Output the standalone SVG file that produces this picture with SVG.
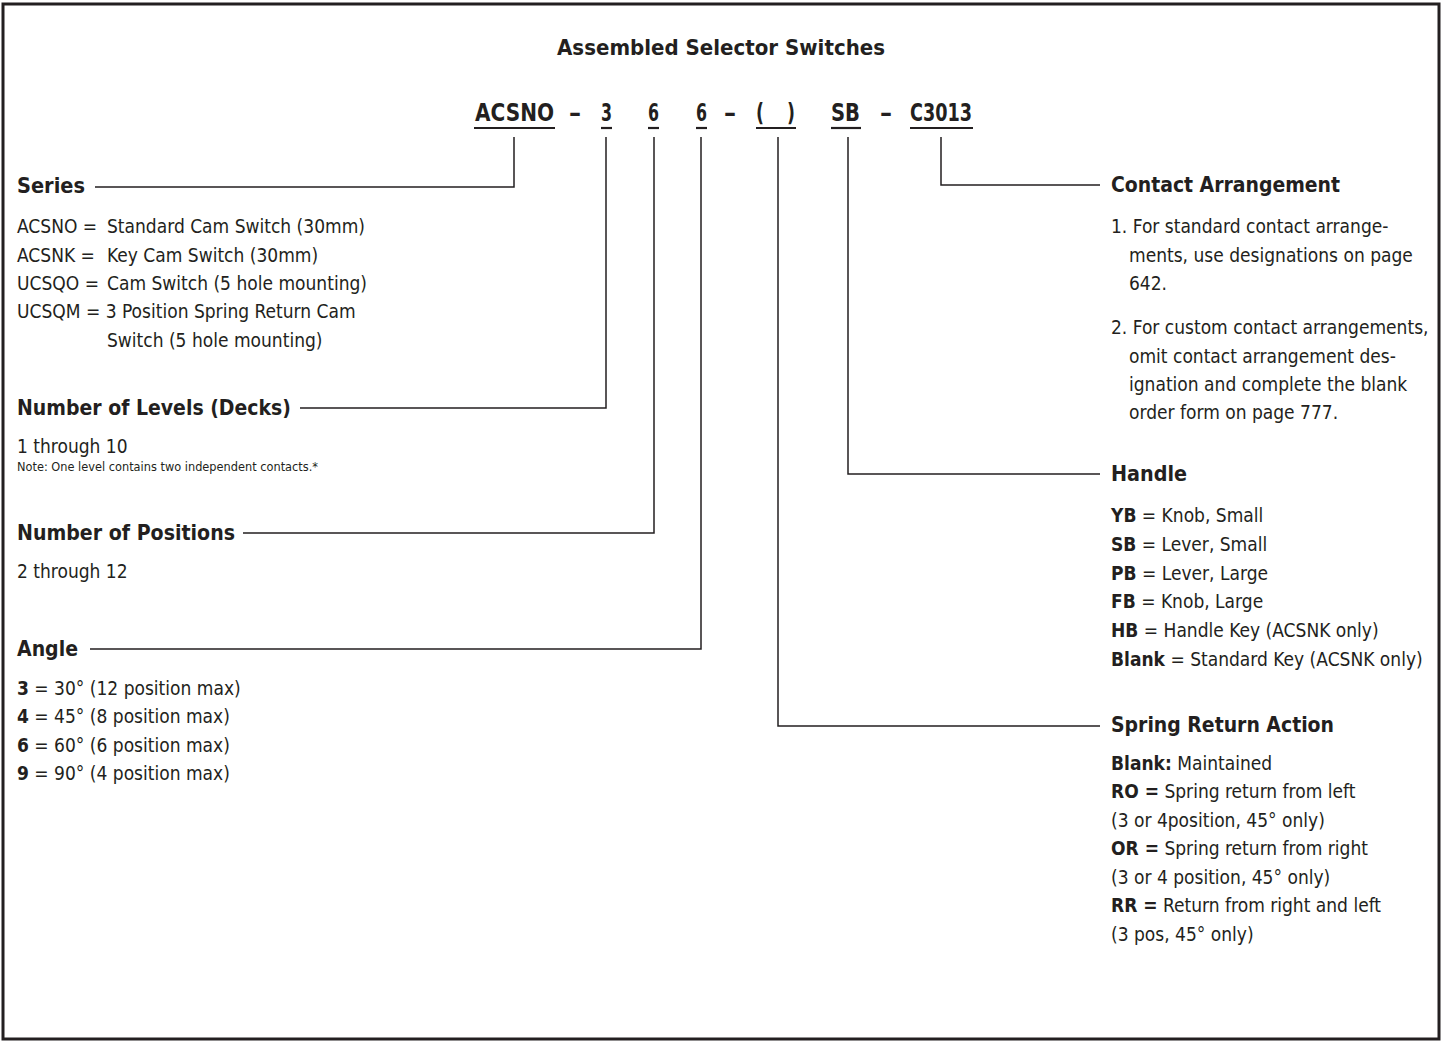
<svg xmlns="http://www.w3.org/2000/svg" width="1442" height="1041" viewBox="0 0 1442 1041">
<style>
text{font-family:"DejaVu Sans Condensed","Liberation Sans Narrow","Liberation Sans",sans-serif;fill:#231f20}
.h{font-weight:bold;font-size:22px}
.t{font-size:19px}
.b{font-weight:bold}
.n{font-size:12.5px}
.code{font-weight:bold;font-size:25px}
.c{fill:none;stroke:#231f20;stroke-width:1.5}
.u{stroke:#231f20;stroke-width:2.2}
</style>
<rect x="3" y="4" width="1436" height="1035" fill="#fff" stroke="#231f20" stroke-width="3"/>
<g id="title">
<text x="557" y="55" class="h" textLength="328" lengthAdjust="spacingAndGlyphs">Assembled Selector Switches</text>
</g>
<g id="code">
<text x="475" y="121" class="code" textLength="79" lengthAdjust="spacingAndGlyphs">ACSNO</text>
<text x="569" y="121" class="code" textLength="12" lengthAdjust="spacingAndGlyphs">–</text>
<text x="601" y="121" class="code" textLength="11" lengthAdjust="spacingAndGlyphs">3</text>
<text x="648" y="121" class="code" textLength="11" lengthAdjust="spacingAndGlyphs">6</text>
<text x="696" y="121" class="code" textLength="11" lengthAdjust="spacingAndGlyphs">6</text>
<text x="724" y="121" class="code" textLength="12" lengthAdjust="spacingAndGlyphs">–</text>
<text x="756" y="121" class="code" textLength="8" lengthAdjust="spacingAndGlyphs">(</text>
<text x="787" y="121" class="code" textLength="8" lengthAdjust="spacingAndGlyphs">)</text>
<text x="831" y="121" class="code" textLength="29" lengthAdjust="spacingAndGlyphs">SB</text>
<text x="880" y="121" class="code" textLength="12" lengthAdjust="spacingAndGlyphs">–</text>
<text x="910" y="121" class="code" textLength="62" lengthAdjust="spacingAndGlyphs">C3013</text>
<line class="u" x1="474" y1="128" x2="555" y2="128"/>
<line class="u" x1="601" y1="128" x2="612" y2="128"/>
<line class="u" x1="648" y1="128" x2="659" y2="128"/>
<line class="u" x1="696" y1="128" x2="707" y2="128"/>
<line class="u" x1="756" y1="128" x2="796" y2="128"/>
<line class="u" x1="831" y1="128" x2="861" y2="128"/>
<line class="u" x1="910" y1="128" x2="973" y2="128"/>
</g>
<g id="connectors">
<polyline class="c" points="514,137 514,187 95,187"/>
<polyline class="c" points="606,137 606,408 300,408"/>
<polyline class="c" points="654,137 654,533 243,533"/>
<polyline class="c" points="701,137 701,649 90,649"/>
<polyline class="c" points="778,137 778,726 1100,726"/>
<polyline class="c" points="848,137 848,474 1100,474"/>
<polyline class="c" points="941,137 941,185 1100,185"/>
</g>
<g id="series">
<text x="17" y="193" class="h" textLength="68" lengthAdjust="spacingAndGlyphs">Series</text>
<text class="t"><tspan x="17" y="233">ACSNO =</tspan><tspan x="107" y="233">Standard Cam Switch (30mm)</tspan><tspan x="17" y="262">ACSNK =</tspan><tspan x="107" y="262">Key Cam Switch (30mm)</tspan><tspan x="17" y="290">UCSQO =</tspan><tspan x="107" y="290">Cam Switch (5 hole mounting)</tspan><tspan x="17" y="318">UCSQM = 3 Position Spring Return Cam</tspan><tspan x="107" y="347">Switch (5 hole mounting)</tspan></text>
</g>
<g id="levels">
<text x="17" y="415" class="h" textLength="274" lengthAdjust="spacingAndGlyphs">Number of Levels (Decks)</text>
<text x="17" y="453" class="t">1 through 10</text>
<text x="17" y="471" class="n" textLength="301" lengthAdjust="spacingAndGlyphs">Note: One level contains two independent contacts.*</text>
</g>
<g id="positions">
<text x="17" y="540" class="h" textLength="218" lengthAdjust="spacingAndGlyphs">Number of Positions</text>
<text x="17" y="578" class="t">2 through 12</text>
</g>
<g id="angle">
<text x="17" y="656" class="h" textLength="61" lengthAdjust="spacingAndGlyphs">Angle</text>
<text class="t"><tspan x="17" y="695"><tspan class="b">3</tspan> = 30° (12 position max)</tspan><tspan x="17" y="723"><tspan class="b">4</tspan> = 45° (8 position max)</tspan><tspan x="17" y="752"><tspan class="b">6</tspan> = 60° (6 position max)</tspan><tspan x="17" y="780"><tspan class="b">9</tspan> = 90° (4 position max)</tspan></text>
</g>
<g id="contact">
<text x="1111" y="192" class="h" textLength="229" lengthAdjust="spacingAndGlyphs">Contact Arrangement</text>
<text class="t"><tspan x="1111" y="233">1. For standard contact arrange-</tspan><tspan x="1129" y="262">ments, use designations on page</tspan><tspan x="1129" y="290">642.</tspan><tspan x="1111" y="334">2. For custom contact arrangements,</tspan><tspan x="1129" y="363">omit contact arrangement des-</tspan><tspan x="1129" y="391">ignation and complete the blank</tspan><tspan x="1129" y="419">order form on page 777.</tspan></text>
</g>
<g id="handle">
<text x="1111" y="481" class="h" textLength="76" lengthAdjust="spacingAndGlyphs">Handle</text>
<text class="t"><tspan x="1111" y="522"><tspan class="b">YB</tspan> = Knob, Small</tspan><tspan x="1111" y="551"><tspan class="b">SB</tspan> = Lever, Small</tspan><tspan x="1111" y="580"><tspan class="b">PB</tspan> = Lever, Large</tspan><tspan x="1111" y="608"><tspan class="b">FB</tspan> = Knob, Large</tspan><tspan x="1111" y="637"><tspan class="b">HB</tspan> = Handle Key (ACSNK only)</tspan><tspan x="1111" y="666"><tspan class="b">Blank</tspan> = Standard Key (ACSNK only)</tspan></text>
</g>
<g id="spring">
<text x="1111" y="732" class="h" textLength="223" lengthAdjust="spacingAndGlyphs">Spring Return Action</text>
<text class="t"><tspan x="1111" y="770"><tspan class="b">Blank:</tspan> Maintained</tspan><tspan x="1111" y="798"><tspan class="b">RO =</tspan> Spring return from left</tspan><tspan x="1111" y="827">(3 or 4position, 45° only)</tspan><tspan x="1111" y="855"><tspan class="b">OR =</tspan> Spring return from right</tspan><tspan x="1111" y="884">(3 or 4 position, 45° only)</tspan><tspan x="1111" y="912"><tspan class="b">RR =</tspan> Return from right and left</tspan><tspan x="1111" y="941">(3 pos, 45° only)</tspan></text>
</g>
</svg>
